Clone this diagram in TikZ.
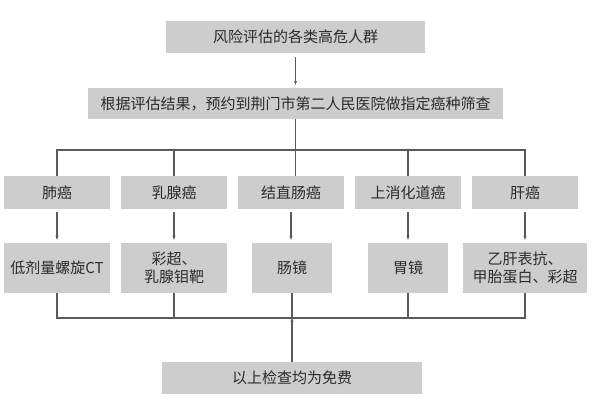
\documentclass[tikz,border=0pt]{standalone}
\usepackage{fontspec}
\setmainfont{Noto Sans CJK SC}
\usetikzlibrary{arrows.meta}
\definecolor{boxgray}{HTML}{CDCDCD}
\definecolor{linegray}{HTML}{5A5A5A}
\definecolor{textgray}{HTML}{2B2B2B}
\begin{document}
\begin{tikzpicture}[x=1pt,y=-1pt,
  box/.style={fill=boxgray, inner sep=0pt, text=textgray, align=center,
    font=\fontsize{15}{18}\selectfont},
  conn/.style={draw=linegray, line width=1.1pt},
  arr/.style={conn, -{Stealth[length=4pt,width=3pt]}}]
\useasboundingbox (0,0) rectangle (600,407);
\fill[white] (0,0) rectangle (600,407);
% boxes
\node[box, minimum width=259pt, minimum height=32pt] (top) at (295.5,37) {风险评估的各类高危人群};
\node[box, minimum width=415pt, minimum height=31pt] (plan) at (295.5,103.5) {根据评估结果，预约到荆门市第二人民医院做指定癌种筛查};
% row 1
\node[box, minimum width=106pt, minimum height=33pt] (a1) at (57,192.5) {肺癌};
\node[box, minimum width=106pt, minimum height=33pt] (b1) at (174,192.5) {乳腺癌};
\node[box, minimum width=106pt, minimum height=33pt] (c1) at (291,192.5) {结直肠癌};
\node[box, minimum width=106pt, minimum height=33pt] (d1) at (408,192.5) {上消化道癌};
\node[box, minimum width=106pt, minimum height=33pt] (e1) at (525,192.5) {肝癌};
% row 2
\node[box, minimum width=106pt, minimum height=50pt] (a2) at (57,268) {低剂量螺旋CT};
\node[box, minimum width=106pt, minimum height=50pt] (b2) at (174,268) {彩超、\\乳腺钼靶};
\node[box, minimum width=80pt, minimum height=50pt] (c2) at (292,268) {肠镜};
\node[box, minimum width=80pt, minimum height=50pt] (d2) at (408,268) {胃镜};
\node[box, minimum width=124pt, minimum height=50pt] (e2) at (525,268) {乙肝表抗、\\甲胎蛋白、彩超};
% bottom
\node[box, minimum width=260pt, minimum height=32pt] (free) at (292,378) {以上检查均为免费};
% buses
\coordinate (bus1) at (295,150);
\coordinate (bus2) at (292,318);
% top arrow
\draw[arr, shorten <=4pt, shorten >=3pt] (top.south) -- (plan.north);
% branch to row 1
\draw[conn] (plan.south) -- (plan.south |- c1.north);
\draw[conn] (a1.north) -- (a1.north |- bus1) -- (e1.north |- bus1) -- (e1.north);
\draw[conn] (b1.north |- bus1) -- (b1.north);
\draw[conn] (d1.north |- bus1) -- (d1.north);
% row1 -> row2
\foreach \n in {a,b,c,d,e}{
  \draw[arr, shorten <=3pt, shorten >=3pt] (\n1.south) -- (\n1.south |- \n2.north);
}
% merge from row 2
\draw[conn] (a2.south) -- (a2.south |- bus2) -- (e2.south |- bus2) -- (e2.south);
\draw[conn] (b2.south) -- (b2.south |- bus2);
\draw[conn] (c2.south) -- (c2.south |- bus2);
\draw[conn] (d2.south) -- (d2.south |- bus2);
\draw[arr] (free.north) -- (bus2);
\end{tikzpicture}
\end{document}
